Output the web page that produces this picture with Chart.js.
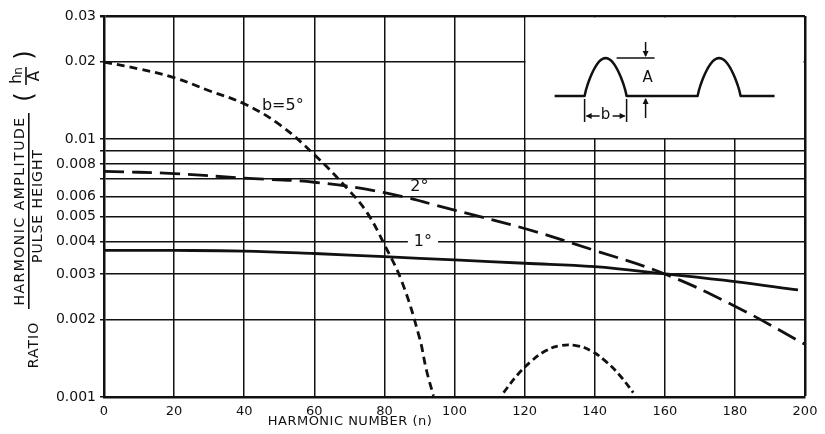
<!DOCTYPE html>
<html>
<head>
<meta charset="utf-8">
<script src="https://cdn.jsdelivr.net/npm/chart.js@4.4.0/dist/chart.umd.min.js"></script>
<style>
  html, body { margin: 0; padding: 0; background: #fff; }
  #wrap { width: 825px; height: 434px; }
</style>
</head>
<body>
<div id="wrap"><canvas id="harmonicsChart" width="825" height="434"></canvas></div>
<script>
// Ratio harmonic amplitude / pulse height vs harmonic number
const yTicks = [0.001, 0.002, 0.003, 0.004, 0.005, 0.006, 0.007, 0.008, 0.009, 0.01, 0.02, 0.03];
const yTickLabels = ['0.001', '0.002', '0.003', '0.004', '0.005', '0.006', '', '0.008', '', '0.01', '0.02', '0.03'];
const xTicks = [0, 20, 40, 60, 80, 100, 120, 140, 160, 180, 200];

// b = 5 deg, main lobe and side lobe
const b5N = [0, 10, 20, 30, 40, 50, 60, 70, 75, 80, 85, 90, 92, 94];
const b5Ratio = [0.0199, 0.0187, 0.0173, 0.0154, 0.0137, 0.0114, 0.0087, 0.0063, 0.0052, 0.0039, 0.0028, 0.0017, 0.00127, 0.00101];
const b5SideN = [114, 118, 122, 126, 130, 135, 139, 143, 147, 151];
const b5SideRatio = [0.00104, 0.00122, 0.00138, 0.00151, 0.00158, 0.00158, 0.00151, 0.00138, 0.00122, 0.00104];
// b = 2 deg
const b2N = [0, 20, 40, 60, 80, 100, 120, 140, 160, 180, 200];
const b2Ratio = [0.0075, 0.00735, 0.00705, 0.0068, 0.0062, 0.0053, 0.0045, 0.0037, 0.0030, 0.00225, 0.0016];
// b = 1 deg
const b1N = [0, 20, 40, 60, 80, 100, 120, 140, 160, 180, 198];
const b1Ratio = [0.0037, 0.0037, 0.00368, 0.0036, 0.0035, 0.0034, 0.0033, 0.0032, 0.0030, 0.0028, 0.0026];

const INK = '#111';
const FONT = '"DejaVu Sans", sans-serif';

function toPoints(xs, ys) {
    return xs.map((n, i) => ({ x: n, y: ys[i] }));
}

function curve(label, xs, ys, dash) {
    return {
        label: label,
        data: toPoints(xs, ys),
        borderColor: INK,
        borderWidth: 2.8,
        borderDash: dash,
        borderCapStyle: 'butt',
        pointRadius: 0,
        fill: false,
        tension: 0.4
    };
}

function arrowHead(ctx, x, y, dx, dy) {
    // small filled triangle pointing in (dx, dy)
    const len = 6, half = 3;
    ctx.beginPath();
    ctx.moveTo(x, y);
    ctx.lineTo(x - dx * len - dy * half, y - dy * len + dx * half);
    ctx.lineTo(x - dx * len + dy * half, y - dy * len - dx * half);
    ctx.closePath();
    ctx.fill();
}

// white inset with the pulse sketch, covering the grid in the top right corner
const pulseInset = {
    id: 'pulseInset',
    beforeDatasetsDraw(chart) {
        const { ctx, chartArea, scales } = chart;
        const bx = scales.x.getPixelForValue(120);
        const by = scales.y.getPixelForValue(0.01);
        ctx.save();
        ctx.fillStyle = '#fff';
        ctx.fillRect(bx + 1, chartArea.top + 1.5, chartArea.right - bx - 2.5, by - chartArea.top - 2.5);

        ctx.strokeStyle = INK;
        ctx.fillStyle = INK;
        ctx.lineWidth = 2.5;
        ctx.lineJoin = 'round';
        const base = by - 43, h = 38;
        const arch = (x0, x1) => {
            for (let i = 0; i <= 30; i++) {
                const t = i / 30;
                ctx.lineTo(x0 + t * (x1 - x0), base - h * Math.pow(Math.sin(Math.PI * t), 0.8));
            }
        };
        ctx.beginPath();
        ctx.moveTo(bx + 30, base);
        ctx.lineTo(bx + 60, base);
        arch(bx + 60, bx + 102);
        ctx.lineTo(bx + 173, base);
        arch(bx + 173, bx + 216);
        ctx.lineTo(bx + 250, base);
        ctx.stroke();

        // height A
        ctx.lineWidth = 1.5;
        ctx.beginPath();
        ctx.moveTo(bx + 92, base - h); ctx.lineTo(bx + 130, base - h);
        ctx.moveTo(bx + 121, base - h - 16); ctx.lineTo(bx + 121, base - h - 2);
        ctx.moveTo(bx + 121, base + 22); ctx.lineTo(bx + 121, base + 3);
        ctx.stroke();
        arrowHead(ctx, bx + 121, base - h - 1, 0, 1);
        arrowHead(ctx, bx + 121, base + 2, 0, -1);

        // width b
        ctx.beginPath();
        ctx.moveTo(bx + 60, base + 3); ctx.lineTo(bx + 60, base + 26);
        ctx.moveTo(bx + 102, base + 3); ctx.lineTo(bx + 102, base + 26);
        ctx.moveTo(bx + 75, base + 20); ctx.lineTo(bx + 62, base + 20);
        ctx.moveTo(bx + 88, base + 20); ctx.lineTo(bx + 100, base + 20);
        ctx.stroke();
        arrowHead(ctx, bx + 61, base + 20, -1, 0);
        arrowHead(ctx, bx + 101, base + 20, 1, 0);

        ctx.font = '15px ' + FONT;
        ctx.textAlign = 'center';
        ctx.textBaseline = 'middle';
        ctx.fillText('A', bx + 123, base - 18);
        ctx.fillText('b', bx + 81, base + 19);
        ctx.restore();
    }
};

// curve labels and axis titles
const chartText = {
    id: 'chartText',
    afterDatasetsDraw(chart) {
        const { ctx, scales } = chart;
        const labels = [
            { text: 'b=5°', n: 51, r: 0.0134, bg: false },
            { text: '2°', n: 90, r: 0.0065, bg: true },
            { text: '1°', n: 91, r: 0.0040, bg: true }
        ];
        ctx.save();
        ctx.font = '16px ' + FONT;
        ctx.textAlign = 'center';
        ctx.textBaseline = 'middle';
        labels.forEach(l => {
            const px = scales.x.getPixelForValue(l.n);
            const py = scales.y.getPixelForValue(l.r);
            if (l.bg) {
                const w = ctx.measureText(l.text).width + 12;
                ctx.fillStyle = '#fff';
                ctx.fillRect(px - w / 2, py - 7, w, 14);
            }
            ctx.fillStyle = INK;
            ctx.fillText(l.text, px, py);
        });

        // x axis title
        ctx.font = '13px ' + FONT;
        ctx.letterSpacing = '0.5px';
        ctx.fillText('HARMONIC NUMBER (n)', 350, 422);

        // y axis title, rotated
        const rot = (x, y, fn) => {
            ctx.save();
            ctx.translate(x, y);
            ctx.rotate(-Math.PI / 2);
            fn();
            ctx.restore();
        };
        ctx.font = '14px ' + FONT;
        ctx.letterSpacing = '1.5px';
        rot(20, 211, () => ctx.fillText('HARMONIC AMPLITUDE', 0, 0));
        ctx.letterSpacing = '1px';
        rot(38, 206, () => ctx.fillText('PULSE HEIGHT', 0, 0));
        rot(34, 345, () => ctx.fillText('RATIO', 0, 0));
        ctx.letterSpacing = '0px';
        ctx.fillRect(28, 113, 1.6, 196);

        rot(26, 76, () => {
            ctx.font = '24px ' + FONT;
            ctx.fillText('(', -21, 0);
            ctx.fillText(')', 21, 0);
            ctx.font = '15px ' + FONT;
            ctx.fillText('h', -3, -9);
            ctx.font = '12px ' + FONT;
            ctx.fillText('n', 5, -7);
            ctx.font = '15px ' + FONT;
            ctx.fillText('A', 0, 9);
            ctx.fillRect(-9, -0.8, 18, 1.6);
        });
        ctx.restore();
    }
};

new Chart(document.getElementById('harmonicsChart'), {
    type: 'line',
    data: {
        datasets: [
            curve('b=5°', b5N, b5Ratio, [8, 5]),
            curve('b=5° side lobe', b5SideN, b5SideRatio, [7, 4]),
            curve('2°', b2N, b2Ratio, [20, 8]),
            curve('1°', b1N, b1Ratio, [])
        ]
    },
    options: {
        responsive: false,
        animation: false,
        devicePixelRatio: 1,
        layout: { padding: { top: 16, right: 20, left: 0, bottom: 0 } },
        plugins: {
            legend: { display: false },
            tooltip: { enabled: false }
        },
        scales: {
            x: {
                type: 'linear',
                min: 0,
                max: 200,
                afterBuildTicks: s => { s.ticks = xTicks.map(v => ({ value: v })); },
                afterFit: s => { s.height = 37; },
                grid: {
                    color: INK,
                    lineWidth: c => (c.tick && c.tick.value === 200 ? 2.5 : 1.5),
                    drawTicks: false
                },
                border: { display: true, color: INK, width: 2.5 },
                ticks: {
                    color: INK,
                    padding: 7,
                    maxRotation: 0,
                    font: { family: FONT, size: 13 }
                }
            },
            y: {
                type: 'logarithmic',
                min: 0.001,
                max: 0.03,
                afterBuildTicks: s => { s.ticks = yTicks.map(v => ({ value: v })); },
                afterFit: s => { s.width = 104; },
                grid: {
                    color: INK,
                    lineWidth: c => (c.tick && c.tick.value === 0.03 ? 2.5 : 1.5),
                    tickLength: 4
                },
                border: { display: true, color: INK, width: 2.5 },
                ticks: {
                    color: INK,
                    padding: 4,
                    font: { family: FONT, size: 14 },
                    callback: (v) => {
                        const i = yTicks.findIndex(t => Math.abs(t - v) < 1e-9);
                        return i >= 0 ? yTickLabels[i] : '';
                    }
                }
            }
        }
    },
    plugins: [pulseInset, chartText]
});
</script>
</body>
</html>
